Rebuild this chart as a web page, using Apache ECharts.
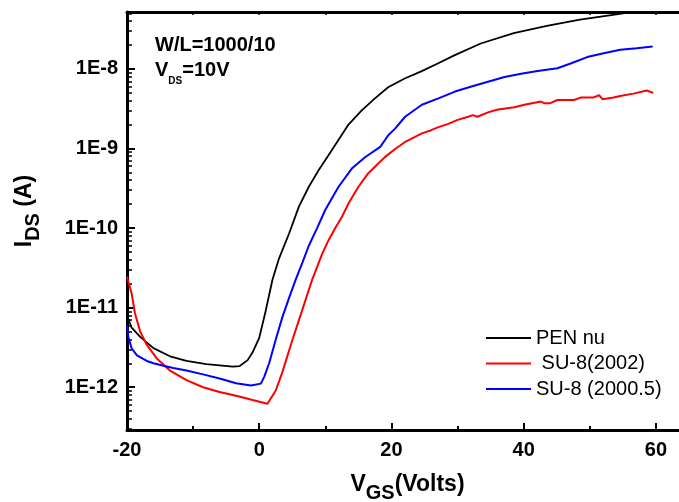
<!DOCTYPE html>
<html>
<head>
<meta charset="utf-8">
<script src="https://cdn.jsdelivr.net/npm/echarts@6/dist/echarts.min.js"></script>
<style>
html,body{margin:0;padding:0;background:#fff;}
#chart{width:679px;height:502px;}
</style>
</head>
<body>
<div id="chart"></div>
<script>
// ---- data ----
const penV = [-20, -19.3, -18, -16, -13.5, -11, -8, -4, -3, -1.75, -1, 0, 1, 2, 3, 4.5, 6, 7.5, 9, 10.5, 12, 13.5, 15.5, 17.5, 19.5, 22, 24.5, 27, 29.5, 33.5, 38.5, 43.5, 48.5, 53.5, 56, 60];
const penI = [8.1e-12, 5.6e-12, 4.3e-12, 3.1e-12, 2.45e-12, 2.14e-12, 1.95e-12, 1.82e-12, 1.84e-12, 2.19e-12, 2.75e-12, 4.17e-12, 9.3e-12, 2.24e-11, 4.17e-11, 8.5e-11, 1.86e-10, 3.31e-10, 5.37e-10, 8.3e-10, 1.29e-9, 2.0e-9, 3.02e-9, 4.27e-9, 5.89e-9, 7.59e-9, 9.33e-9, 1.17e-8, 1.48e-8, 2.09e-8, 2.82e-8, 3.47e-8, 4.17e-8, 4.79e-8, 5.13e-8, 5.75e-8];

const su2002V = [-20, -19.3, -18.8, -18, -17, -15.5, -13.5, -11, -8.5, -6, -3.5, -1, 1.25, 2, 2.5, 3.5, 5, 6.5, 8, 9.5, 10.5, 11.5, 12.5, 13.5, 15, 16.5, 18, 19, 20.5, 22, 24.6, 26, 27.1, 28.6, 30, 31.6, 32.3, 33, 34.6, 36.1, 38.6, 40.1, 42.6, 43.1, 44, 45.1, 47.6, 48.6, 50.5, 51.4, 51.9, 53.6, 54.6, 56.6, 58.6, 59.6];
const su2002I = [2.45e-11, 1.51e-11, 8.5e-12, 5.0e-12, 3.4e-12, 2.3e-12, 1.62e-12, 1.23e-12, 1.0e-12, 8.7e-13, 7.8e-13, 6.9e-13, 6.2e-13, 7.8e-13, 9.1e-13, 1.55e-12, 3.9e-12, 9.3e-12, 2.24e-11, 4.7e-11, 7.1e-11, 1.0e-10, 1.38e-10, 2.04e-10, 3.31e-10, 4.9e-10, 6.5e-10, 7.8e-10, 9.8e-10, 1.2e-9, 1.55e-9, 1.7e-9, 1.86e-9, 2.04e-9, 2.29e-9, 2.51e-9, 2.63e-9, 2.51e-9, 2.85e-9, 3.09e-9, 3.31e-9, 3.55e-9, 3.89e-9, 3.72e-9, 3.72e-9, 4.07e-9, 4.07e-9, 4.37e-9, 4.37e-9, 4.68e-9, 4.17e-9, 4.37e-9, 4.57e-9, 4.9e-9, 5.37e-9, 5.0e-9];

const su20005V = [-20, -19.8, -19.3, -18.5, -17, -16, -14.5, -13, -11, -8.5, -6, -3.5, -1.25, 0.25, 0.75, 1.5, 2.5, 3.5, 4.5, 5.5, 6.5, 7.5, 8.75, 10, 12, 14, 16, 18.3, 19.55, 20.55, 22.06, 24.6, 27.1, 29.6, 32.1, 34.6, 37.1, 39.6, 42.1, 45.1, 47.1, 49.6, 52.1, 54.6, 57.1, 59.5];
const su20005I = [6.0e-12, 4.27e-12, 3.09e-12, 2.51e-12, 2.14e-12, 2.0e-12, 1.86e-12, 1.74e-12, 1.62e-12, 1.45e-12, 1.29e-12, 1.12e-12, 1.05e-12, 1.11e-12, 1.35e-12, 2.0e-12, 3.98e-12, 7.6e-12, 1.32e-11, 2.24e-11, 3.63e-11, 6.0e-11, 1.0e-10, 1.7e-10, 3.31e-10, 5.6e-10, 7.76e-10, 1.05e-9, 1.48e-9, 1.78e-9, 2.51e-9, 3.55e-9, 4.27e-9, 5.2e-9, 6.03e-9, 6.92e-9, 7.94e-9, 8.71e-9, 9.44e-9, 1.02e-8, 1.17e-8, 1.41e-8, 1.58e-8, 1.74e-8, 1.82e-8, 1.91e-8];

const seriesNames = ['PEN nu', ' SU-8(2002)', 'SU-8 (2000.5)'];

// ---- axis ticks ----
const xMajorTicks = [-20, 0, 20, 40, 60];
const xMinorTicks = [-10, 10, 30, 50];
const xTopTicks = [-20, -10, 0, 10, 20, 30, 40, 50, 60];
const yMajorTicks = [1e-12, 1e-11, 1e-10, 1e-9, 1e-8];
const yMinorTicks = [
  3e-13, 4e-13, 5e-13, 6e-13, 7e-13, 8e-13, 9e-13,
  2e-12, 3e-12, 4e-12, 5e-12, 6e-12, 7e-12, 8e-12, 9e-12,
  2e-11, 3e-11, 4e-11, 5e-11, 6e-11, 7e-11, 8e-11, 9e-11,
  2e-10, 3e-10, 4e-10, 5e-10, 6e-10, 7e-10, 8e-10, 9e-10,
  2e-9, 3e-9, 4e-9, 5e-9, 6e-9, 7e-9, 8e-9, 9e-9,
  2e-8, 3e-8, 4e-8, 5e-8
];

const FONT = "'Liberation Sans', Arial, sans-serif";
const X_MIN = -20, X_MAX = 65;
const Y_MIN = 2.9e-13, Y_MAX = 5.2e-8;

const zip = (xs, ys) => xs.map((x, i) => [x, ys[i]]);

const chart = echarts.init(document.getElementById('chart'), null, {renderer: 'canvas'});

const black = '#000';
const hiddenLabel = {show: false};

const option = {
  animation: false,
  backgroundColor: '#fff',
  grid: {left: 127, right: -10, top: 12, bottom: 72, containLabel: false, outerBoundsMode: 'none'},
  legend: {
    orient: 'vertical',
    left: 486,
    top: 328,
    icon: 'rect',
    itemWidth: 45,
    itemHeight: 2,
    itemGap: 5.5,
    padding: 0,
    textStyle: {fontSize: 20, fontFamily: FONT, color: '#000', lineHeight: 20},
    data: seriesNames
  },
  xAxis: [
    {
      type: 'value', position: 'bottom', min: X_MIN, max: X_MAX,
      axisLine: {show: true, onZero: false, lineStyle: {color: black, width: 3}},
      axisTick: {show: true, inside: true, length: 7, lineStyle: {color: black, width: 2}, customValues: xMajorTicks},
      axisLabel: {show: true, customValues: xMajorTicks, fontSize: 20, fontWeight: 'bold', fontFamily: FONT, color: black, margin: 10},
      splitLine: {show: false}
    },
    {
      type: 'value', position: 'bottom', min: X_MIN, max: X_MAX,
      axisLine: {show: false, onZero: false},
      axisTick: {show: true, inside: true, length: 4, lineStyle: {color: black, width: 2}, customValues: xMinorTicks},
      axisLabel: hiddenLabel,
      splitLine: {show: false}
    },
    {
      type: 'value', position: 'top', min: X_MIN, max: X_MAX,
      axisLine: {show: true, onZero: false, lineStyle: {color: black, width: 3}},
      axisTick: {show: true, inside: true, length: 3, lineStyle: {color: black, width: 1.5}, customValues: xTopTicks},
      axisLabel: hiddenLabel,
      splitLine: {show: false}
    }
  ],
  yAxis: [
    {
      type: 'log', logBase: 10, position: 'left', min: Y_MIN, max: Y_MAX,
      axisLine: {show: true, onZero: false, lineStyle: {color: black, width: 3}},
      axisTick: {show: true, inside: true, length: 8, lineStyle: {color: black, width: 2}, customValues: yMajorTicks},
      axisLabel: {
        show: true, customValues: yMajorTicks, fontSize: 20, fontWeight: 'bold', fontFamily: FONT, color: black, margin: 9,
        formatter: v => '1E' + Math.round(Math.log10(v))
      },
      splitLine: {show: false}
    },
    {
      type: 'log', logBase: 10, position: 'left', min: Y_MIN, max: Y_MAX,
      axisLine: {show: false, onZero: false},
      axisTick: {show: true, inside: true, length: 5, lineStyle: {color: black, width: 1.5}, customValues: yMinorTicks},
      axisLabel: hiddenLabel,
      splitLine: {show: false}
    }
  ],
  series: [
    {name: seriesNames[0], type: 'line', data: zip(penV, penI), xAxisIndex: 0, yAxisIndex: 0,
     symbol: 'none', clip: true, color: '#000000', lineStyle: {color: '#000000', width: 1.8}},
    {name: seriesNames[1], type: 'line', data: zip(su2002V, su2002I), xAxisIndex: 0, yAxisIndex: 0,
     symbol: 'none', clip: true, color: '#ff0000', lineStyle: {color: '#ff0000', width: 2}},
    {name: seriesNames[2], type: 'line', data: zip(su20005V, su20005I), xAxisIndex: 0, yAxisIndex: 0,
     symbol: 'none', clip: true, color: '#0000ff', lineStyle: {color: '#0000ff', width: 2}}
  ],
  graphic: [
    {
      type: 'text', left: 155, top: 35,
      style: {text: 'W/L=1000/10', font: "bold 20px " + FONT, fill: '#000'}
    },
    {
      type: 'text', x: 155, y: 60,
      style: {
        text: '{a|V}{b|DS}{a|=10V}', fill: '#000',
        rich: {
          a: {fontSize: 20, fontWeight: 'bold', fontFamily: FONT, lineHeight: 26, verticalAlign: 'top'},
          b: {fontSize: 10, fontWeight: 'bold', fontFamily: FONT, lineHeight: 26, verticalAlign: 'bottom'}
        }
      }
    },
    {
      type: 'text', x: 407.5, y: 488,
      style: {
        text: '{a|V}{b|GS}{a|(Volts)}', fill: '#000', align: 'center', verticalAlign: 'middle',
        rich: {
          a: {fontSize: 23, fontWeight: 'bold', fontFamily: FONT, lineHeight: 30, verticalAlign: 'top'},
          b: {fontSize: 20, fontWeight: 'bold', fontFamily: FONT, lineHeight: 30, verticalAlign: 'bottom'}
        }
      }
    },
    {
      type: 'text', x: 28.5, y: 211, rotation: Math.PI / 2,
      style: {
        text: '{a|I}{b|DS}{a| (A)}', fill: '#000', align: 'center', verticalAlign: 'middle',
        rich: {
          a: {fontSize: 23, fontWeight: 'bold', fontFamily: FONT, lineHeight: 30, verticalAlign: 'top'},
          b: {fontSize: 20, fontWeight: 'bold', fontFamily: FONT, lineHeight: 30, verticalAlign: 'bottom'}
        }
      }
    }
  ]
};

chart.setOption(option);
</script>
</body>
</html>
